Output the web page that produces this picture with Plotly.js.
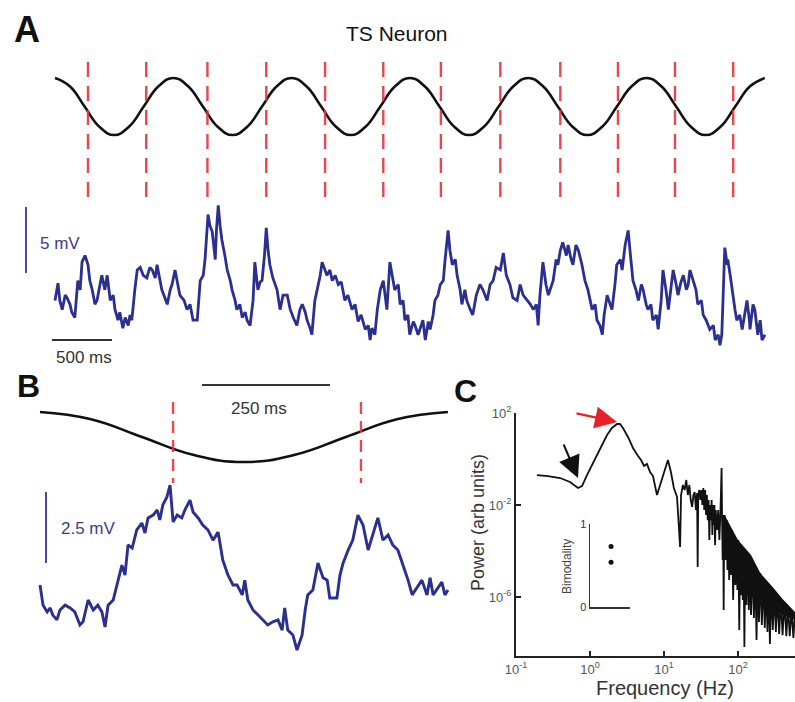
<!DOCTYPE html>
<html><head><meta charset="utf-8">
<script src="https://cdn.plot.ly/plotly-3.0.1.min.js"></script>
<style>html,body{margin:0;padding:0;background:#fff}#chart{width:795px;height:702px}</style>
</head><body><div id="chart"></div>
<script>
// ================= DATA =================
// Panel A: sinusoidal stimulus (one sample every sineA_dt ms)
const sineA_dt = 123.2;
const sineA = [1,0.71,0,-0.71,-1,-0.71,0,0.71, 1,0.71,0,-0.71,-1,-0.71,0,0.71,
               1,0.71,0,-0.71,-1,-0.71,0,0.71, 1,0.71,0,-0.71,-1,-0.71,0,0.71,
               1,0.71,0,-0.71,-1,-0.71,0,0.71, 1,0.71,0,-0.71,-1,-0.71,0,0.71, 1];
const redLinesA_ms = [275,760,1270,1760,2250,2735,3215,3710,4210,4690,5165,5650];
const traceA_ms = [0,25,40,60,85,100,125,140,165,190,
 210,225,250,275,290,310,333,350,375,390,
 415,435,460,485,500,525,540,565,585,610,
 625,640,665,685,710,735,765,790,810,835,
 850,875,890,915,935,960,975,1000,1025,1040,
 1075,1100,1125,1150,1185,1210,1235,1250,1275,1290,
 1310,1325,1335,1345,1360,1375,1390,1415,1435,1460,
 1475,1500,1515,1540,1560,1585,1600,1625,1640,1650,
 1665,1685,1690,1710,1725,1745,1760,1775,1790,1815,
 1850,1875,1900,1935,1960,1985,2015,2040,2060,2085,
 2100,2125,2140,2165,2185,2210,2225,2250,2265,2290,
 2310,2335,2360,2385,2415,2440,2475,2500,2525,2550,
 2585,2610,2625,2640,2665,2685,2710,2735,2750,2765,
 2790,2810,2830,2860,2875,2900,2915,2940,2955,2985,
 3000,3025,3040,3065,3085,3110,3125,3150,3165,3190,
 3210,3235,3250,3275,3290,3310,3335,3350,3375,3390,
 3415,3430,3460,3480,3510,3540,3565,3600,3625,3650,
 3675,3710,3735,3760,3790,3815,3850,3875,3900,3935,
 3960,3985,4010,4025,4040,4065,4090,4110,4135,4150,
 4175,4190,4210,4230,4260,4275,4300,4315,4340,4360,
 4390,4415,4440,4475,4500,4515,4540,4560,4575,4600,
 4625,4640,4665,4680,4710,4725,4750,4775,4790,4815,
 4840,4860,4885,4900,4925,4940,4965,4980,5010,5025,
 5050,5065,5090,5110,5135,5150,5175,5190,5215,5235,
 5260,5275,5290,5315,5340,5355,5385,5400,5425,5455,
 5485,5500,5525,5540,5555,5565,5580,5600,5605,5625,
 5640,5665,5680,5705,5725,5750,5765,5785,5790,5815,
 5830,5855,5875,5890,5915];
const traceA_mV = [3.0,4.3,3.0,2.3,3.4,3.2,2.7,2.1,1.7,4.5,
 3.8,5.9,6.4,5.7,4.5,3.8,2.7,3.0,4.2,4.9,
 3.8,4.9,3.0,3.4,2.3,1.5,2.1,0.9,1.7,1.1,
 1.9,1.5,3.8,5.3,5.5,4.9,4.7,5.5,5.3,4.7,
 5.7,4.5,3.8,3.2,2.7,3.8,4.2,5.3,4.2,3.4,
 3.0,2.3,2.7,1.5,1.5,4.5,4.9,6.1,9.5,8.7,
 8.2,6.8,6.1,8.3,10.2,8.7,7.6,6.4,5.3,4.5,
 3.8,3.0,2.3,2.7,1.7,2.1,1.5,1.1,2.3,3.0,
 5.9,4.5,3.8,4.4,4.5,6.4,8.5,6.8,5.7,4.7,
 3.8,2.3,3.4,3.4,2.3,1.7,1.1,2.3,2.7,2.1,
 1.5,0.9,0.4,3.0,3.8,4.9,5.9,5.2,4.9,5.3,
 4.5,4.9,4.2,4.4,3.0,3.4,2.3,2.7,1.4,1.9,
 0.8,1.1,0.0,0.9,0.4,2.3,3.8,4.5,3.2,2.3,
 5.9,4.9,3.8,4.2,2.7,3.0,1.5,1.9,0.4,1.4,
 1.1,0.4,0.8,1.5,0.0,1.4,0.8,1.9,3.0,3.4,
 4.2,4.5,6.1,8.3,6.8,5.7,6.1,4.9,3.8,2.7,
 3.8,3.0,2.3,1.9,3.4,4.2,3.8,3.0,4.2,4.5,
 5.5,5.3,6.6,4.9,4.2,3.2,3.0,4.2,3.4,3.0,
 2.7,2.3,2.7,1.1,3.4,5.9,4.2,3.4,4.2,4.5,
 6.1,5.7,6.8,7.4,6.4,7.2,6.1,5.7,7.2,6.8,
 5.7,4.5,3.8,2.3,2.7,1.5,1.1,0.4,1.9,3.4,
 2.7,2.3,4.2,5.7,6.1,5.3,7.2,8.3,6.8,4.5,
 3.8,3.0,4.2,3.8,2.7,2.3,2.7,1.5,1.9,0.8,
 3.0,5.3,3.8,2.3,4.2,5.3,4.2,3.4,4.4,4.9,
 3.8,4.2,5.3,4.5,3.8,2.7,3.0,1.9,1.5,0.8,
 1.1,0.0,0.4,-0.4,0.4,3.0,7.0,5.7,6.1,4.9,
 3.8,2.3,1.5,1.9,0.8,2.3,3.0,1.5,0.8,2.7,
 2.3,0.4,1.5,0.0,0.4];
const scaleA_mV = 5, scaleA_ms = 500;

// Panel B
const sineB_dt = 99.6;
const sineB = [1,0.71,0,-0.71,-1,-0.71,0,0.71,1];
const redLinesB_ms = [260, 627];
const traceB_ms = [0,4,6,14,20,25,33,39,49,59,
 68,78,84,94,104,113,121,127,133,143,
 152,160,166,172,180,189,199,205,211,221,
 229,234,240,248,254,260,268,277,283,293,
 299,309,318,328,338,348,357,367,377,385,
 395,400,406,416,426,436,445,455,465,473,
 478,484,494,502,512,518,523,533,543,553,
 561,566,580,586,592,602,611,621,631,641,
 650,660,670,680,689,699,709,719,727,736,
 746,756,762,768,775,785,791,797];
const traceB_mV = [2.29,1.76,1.58,1.34,1.48,1.23,1.06,1.41,1.58,1.48,
 1.34,0.88,0.99,1.76,1.41,1.58,1.34,0.81,1.58,1.76,
 2.46,2.99,2.64,3.70,3.59,4.23,4.47,4.12,4.65,4.75,
 4.93,4.58,5.11,5.39,5.81,4.51,4.75,4.65,4.93,5.28,
 4.86,4.65,4.40,4.23,3.87,4.15,3.17,2.64,2.29,2.29,
 1.94,2.46,1.76,1.41,1.23,1.06,0.88,0.99,1.06,0.70,
 1.48,0.70,0.53,0.00,0.53,1.41,1.94,2.11,3.06,2.54,
 2.46,1.83,1.83,2.64,3.06,3.52,3.87,4.75,4.40,3.52,
 4.05,4.65,3.87,4.05,3.70,3.52,2.99,2.46,1.94,2.18,
 2.46,1.94,2.54,1.94,2.11,2.39,1.94,2.11];
const scaleB_mV = 2.5, scaleB_ms = 250;

// Panel C: power spectrum
const specHz = [0.192,0.270,0.394,0.537,0.689,0.780,0.910,1.06,1.24,1.45,
 1.70,1.98,2.32,2.54,2.79,3.26,3.81,4.46,4.89,5.37,
 5.89,6.47,7.10,8.04,8.83,10,11.3,12.4,13.6,
 15,16,16.5,17,18,19,20,21,22,23,
 24,25,26,27,28,28.5,29,30,31,32,
 33,34,35,36,37,38,39,40,41,42,
 43,44,45,46,47,48,49,50,52,54,
 56,58,60,61,62,63,64,65,66,68,
 70,72,74,76,78,80,83,86,89,92,
 95,98,101,104,107,110,113,116,119,122,
 125,130,135,140,145,150,157,164,171,178,
 185,192,200,210,220,230,240,250,260,270,
 280,295,310,325,340,360,380,400,425,450,
 475,500,530,560,590];
const specPower = [0.201,0.182,0.149,0.1,0.0548,0.067,0.201,0.548,1.49,4.06,
 11.0,22.3,33.3,33.3,22.3,9.06,3.01,1.35,0.906,0.497,
 0.607,0.272,0.182,0.0272,0.067,0.272,0.906,0.272,0.0548,
 0.0223,8.2e-4,1.5e-4,0.0272,0.0741,0.0449,0.122,0.0272,0.0741,0.0165,
 8.2e-3,0.0272,0.0367,6.1e-3,0.0333,2.0e-5,0.0272,0.0449,0.0165,0.0449,
 0.01,0.0548,6.1e-3,0.0449,3.7e-3,0.0272,2.2e-3,0.0165,3.0e-4,0.01,
 2.2e-3,0.0165,5.0e-4,0.01,1.35e-3,0.01,1.8e-4,6.1e-3,8.2e-4,6.1e-3,
 3.0e-4,6.1e-3,0.41,2.2e-3,4.1e-5,3.7e-3,2.7e-7,1.35e-3,3.7e-3,4.1e-5,
 2.2e-3,1.5e-5,1.35e-3,5.5e-6,8.2e-4,9.0e-6,8.2e-4,7.4e-7,5.0e-4,3.3e-6,
 3.0e-4,2.0e-6,3.0e-4,3.7e-8,1.8e-4,1.2e-6,1.35e-4,7.4e-7,1.1e-4,6.7e-9,
 9.1e-5,4.5e-7,6.7e-5,2.7e-7,5.0e-5,1.65e-7,3.3e-5,1.22e-7,2.2e-5,1.35e-8,
 1.5e-5,8.2e-8,1.1e-5,6.1e-8,6.7e-6,4.5e-8,4.5e-6,3.0e-8,3.3e-6,9.1e-9,
 2.5e-6,3.7e-8,1.65e-6,3.0e-8,1.1e-6,2.5e-8,8.2e-7,2.2e-8,6.1e-7,2.0e-8,
 4.1e-7,2.0e-8,2.7e-7,1.65e-8,2.2e-7];
// dense high-frequency envelope (upper edge then lower edge back)
const bandHz = [66,100,150,200,300,400,590, 590,400,300,200,150,100,66];
const bandPower = [3.7e-3,3.0e-4,6.7e-5,1.1e-5,2.5e-6,8.2e-7,2.2e-7,
                   1.0e-7,1.65e-7,2.7e-7,7.4e-7,2.0e-6,9e-6,1.8e-4];
const tickC_xVals = [0.1, 1, 10, 100];
const tickC_xText = ['10<sup>-1</sup>','10<sup>0</sup>','10<sup>1</sup>','10<sup>2</sup>'];
const tickC_yVals = [1e2, 1e-2, 1e-6];
const tickC_yText = ['10<sup>2</sup>','10<sup>-2</sup>','10<sup>-6</sup>'];
// Inset
const bimodX = [1, 1];
const bimodality = [0.73, 0.54];

// ================= LAYOUT HELPERS =================
const W = 795, H = 702;
const FONT = 'Liberation Sans, Arial, Helvetica, sans-serif';
function lin(pA, vA, pB, vB){ const k=(vB-vA)/(pB-pA); return p => vA+(p-pA)*k; }
function xAx(m, p0, p1, extra){ return Object.assign({domain:[p0/W,p1/W], range:[m(p0),m(p1)], visible:false, fixedrange:true, showgrid:false, zeroline:false}, extra||{}); }
function yAx(m, p0, p1, extra){ return Object.assign({domain:[1-p1/H,1-p0/H], range:[m(p1),m(p0)], visible:false, fixedrange:true, showgrid:false, zeroline:false}, extra||{}); }
const px = x => x/W, py = y => 1-y/H;

const mxA = lin(55,0,765,5915), mySA = lin(78,1,135,-1), myBA = lin(340,0,274,5);
const mxB = lin(40,0,448,797), mySB = lin(412,1,462,-1), myBB = lin(650,0,579,2.5);
const mxC = lin(516,-1,590,0), myC = lin(413,2,436,1);
const mxI = lin(590,0,630,1.9), myI = lin(607,0,524,1);

const BLUE = '#2b2f8e', RED = '#e5343c', SCALEBLUE = '#4b4ba6';

function vlines(xs, y0, y1){ const X=[],Y=[]; xs.forEach(x=>{X.push(x,x,null);Y.push(y0,y1,null);}); return {x:X,y:Y}; }

const traces = [];
// Panel A
traces.push({type:'scatter', mode:'lines', x0:0, dx:sineA_dt, y:sineA, xaxis:'x', yaxis:'y',
  line:{color:'#111', width:2.6, shape:'spline', smoothing:1.3}, hoverinfo:'skip'});
const rA = vlines(redLinesA_ms, mySA(62), mySA(200));
traces.push({type:'scatter', mode:'lines', x:rA.x, y:rA.y, xaxis:'x', yaxis:'y',
  line:{color:RED, width:2.4, dash:'15px,9px'}, opacity:0.9, hoverinfo:'skip'});
traces.push({type:'scatter', mode:'lines', x:traceA_ms, y:traceA_mV, xaxis:'x', yaxis:'y2',
  line:{color:BLUE, width:2.8}, hoverinfo:'skip'});
const sbAx = mxA(26), sbAy = myBA(273);
traces.push({type:'scatter', mode:'lines', x:[sbAx,sbAx], y:[sbAy, sbAy+scaleA_mV], xaxis:'x', yaxis:'y2',
  line:{color:SCALEBLUE, width:2}, hoverinfo:'skip'});
const hbAx = mxA(52), hbAy = myBA(340);
traces.push({type:'scatter', mode:'lines', x:[hbAx, hbAx+scaleA_ms], y:[hbAy,hbAy], xaxis:'x', yaxis:'y2',
  line:{color:'#333', width:2}, hoverinfo:'skip'});

// Panel B
traces.push({type:'scatter', mode:'lines', x0:0, dx:sineB_dt, y:sineB, xaxis:'x2', yaxis:'y3',
  line:{color:'#111', width:2.6, shape:'spline', smoothing:1.3}, hoverinfo:'skip'});
const rB = vlines(redLinesB_ms, mySB(402), mySB(483));
traces.push({type:'scatter', mode:'lines', x:rB.x, y:rB.y, xaxis:'x2', yaxis:'y3',
  line:{color:RED, width:2.4, dash:'12px,7px'}, opacity:0.9, hoverinfo:'skip'});
const hbBx = mxB(202), hbBy = mySB(385);
traces.push({type:'scatter', mode:'lines', x:[hbBx, hbBx+scaleB_ms], y:[hbBy,hbBy], xaxis:'x2', yaxis:'y3',
  line:{color:'#333', width:2}, hoverinfo:'skip'});
traces.push({type:'scatter', mode:'lines', x:traceB_ms, y:traceB_mV, xaxis:'x2', yaxis:'y4',
  line:{color:BLUE, width:2.9}, hoverinfo:'skip'});
const sbBx = mxB(46), sbBy = myBB(563);
traces.push({type:'scatter', mode:'lines', x:[sbBx,sbBx], y:[sbBy, sbBy+scaleB_mV], xaxis:'x2', yaxis:'y4',
  line:{color:SCALEBLUE, width:2}, hoverinfo:'skip'});

// Panel C
traces.push({type:'scatter', mode:'lines', x:bandHz, y:bandPower, xaxis:'x3', yaxis:'y5',
  fill:'toself', fillcolor:'#111', line:{width:0, color:'#111'}, hoverinfo:'skip'});
traces.push({type:'scatter', mode:'lines', x:specHz, y:specPower, xaxis:'x3', yaxis:'y5',
  line:{color:'#111', width:1.8}, hoverinfo:'skip'});
traces.push({type:'scatter', mode:'markers', x:bimodX, y:bimodality, xaxis:'x4', yaxis:'y6',
  marker:{color:'#111', size:5}, hoverinfo:'skip'});

const ann = (x,y,text,size,extra) => Object.assign({xref:'paper', yref:'paper', x:px(x), y:py(y), text:text, showarrow:false,
  xanchor:'center', yanchor:'middle', font:{family:FONT, size:size, color:'#111'}}, extra||{});

const annotations = [
  ann(27,29,'<b>A</b>',36),
  ann(397,34,'TS Neuron',21),
  ann(60,243,'5 mV',17,{font:{family:FONT,size:17,color:'#3a3d8c'}}),
  ann(84,357,'500 ms',17,{font:{family:FONT,size:17,color:'#333'}}),
  ann(28,386,'<b>B</b>',32),
  ann(259,408,'250 ms',17,{font:{family:FONT,size:17,color:'#333'}}),
  ann(88,528,'2.5 mV',17,{font:{family:FONT,size:17,color:'#3a3d8c'}}),
  ann(465,391,'<b>C</b>',32),
  ann(478,523,'Power (arb units)',18,{textangle:-90, font:{family:FONT,size:18,color:'#333'}}),
  ann(665,688,'Frequency (Hz)',20,{font:{family:FONT,size:20,color:'#333'}}),
  ann(567,567,'Bimodality',12,{textangle:-90, font:{family:FONT,size:12,color:'#444'}}),
  // arrows
  {xref:'paper', yref:'paper', x:px(617), y:py(422), ax:575-617, ay:413-422, text:'', showarrow:true,
   arrowhead:2, arrowsize:2, arrowwidth:2.2, arrowcolor:'#e8202a'},
  {xref:'paper', yref:'paper', x:px(578), y:py(478), ax:563-578, ay:443-478, text:'', showarrow:true,
   arrowhead:2, arrowsize:2.2, arrowwidth:2, arrowcolor:'#111'}
];

const axC = {visible:true, showline:true, linecolor:'#222', linewidth:2, ticks:'inside', ticklen:5, tickwidth:1.5,
  tickcolor:'#222', tickfont:{family:FONT, size:13, color:'#555'}, showgrid:false, zeroline:false};

const layout = {
  width:W, height:H, margin:{l:0,r:0,t:0,b:0}, paper_bgcolor:'#fff', plot_bgcolor:'rgba(0,0,0,0)',
  showlegend:false, font:{family:FONT},
  xaxis: xAx(mxA, 0, 795, {anchor:'y'}),
  yaxis: yAx(mySA, 40, 210, {anchor:'x'}),
  yaxis2: yAx(myBA, 195, 372, {anchor:'x'}),
  xaxis2: xAx(mxB, 0, 470, {anchor:'y3'}),
  yaxis3: yAx(mySB, 372, 500, {anchor:'x2'}),
  yaxis4: yAx(myBB, 470, 672, {anchor:'x2'}),
  xaxis3: xAx(mxC, 516, 795, Object.assign({}, axC, {type:'log', anchor:'y5', tickvals:tickC_xVals, ticktext:tickC_xText})),
  yaxis5: yAx(myC, 413, 656, Object.assign({}, axC, {type:'log', anchor:'x3', tickvals:tickC_yVals, ticktext:tickC_yText})),
  xaxis4: xAx(mxI, 590, 630, {visible:true, showline:true, linecolor:'#333', linewidth:1.5, showticklabels:false, ticks:'', anchor:'y6'}),
  yaxis6: yAx(myI, 524, 607, {visible:true, showline:true, linecolor:'#333', linewidth:1.5, ticks:'', tickvals:[0,1], ticktext:['0','1'],
     tickfont:{family:FONT, size:11, color:'#333'}, anchor:'x4'}),
  annotations: annotations
};

Plotly.newPlot('chart', traces, layout, {staticPlot:true, displayModeBar:false});
</script>
</body></html>
